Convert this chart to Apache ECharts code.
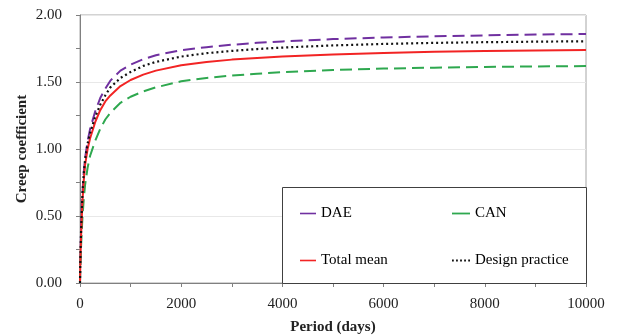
<!DOCTYPE html>
<html>
<head>
<meta charset="utf-8">
<script src="https://cdn.jsdelivr.net/npm/echarts@6/dist/echarts.min.js"></script>
<style>html,body{margin:0;padding:0;background:#fff;}#c{width:618px;height:336px;}</style>
</head>
<body>
<div id="c"></div>
<script>
const days = [0, 5, 10, 20, 30, 50, 75, 100, 150, 200, 300, 400, 500, 600, 800, 1000, 1250, 1500, 2000, 2500, 3000, 3500, 4000, 5000, 6000, 7000, 8000, 9000, 10000];
const dae = [0, 0.13, 0.22, 0.37, 0.49, 0.68, 0.83, 0.93, 1.06, 1.15, 1.28, 1.38, 1.45, 1.51, 1.585, 1.63, 1.67, 1.70, 1.737, 1.760, 1.778, 1.792, 1.803, 1.820, 1.832, 1.841, 1.848, 1.854, 1.858];
const can = [0, 0.09, 0.15, 0.26, 0.35, 0.50, 0.63, 0.73, 0.86, 0.95, 1.06, 1.15, 1.22, 1.27, 1.345, 1.39, 1.43, 1.46, 1.505, 1.530, 1.548, 1.562, 1.573, 1.590, 1.600, 1.607, 1.612, 1.616, 1.619];
const totalMean = [0, 0.12, 0.20, 0.33, 0.44, 0.62, 0.77, 0.88, 1.00, 1.08, 1.20, 1.29, 1.355, 1.40, 1.47, 1.515, 1.555, 1.585, 1.625, 1.650, 1.667, 1.680, 1.690, 1.706, 1.717, 1.725, 1.731, 1.736, 1.739];
const designPractice = [0, 0.13, 0.22, 0.37, 0.49, 0.68, 0.82, 0.92, 1.04, 1.12, 1.24, 1.33, 1.40, 1.46, 1.53, 1.575, 1.62, 1.65, 1.69, 1.715, 1.732, 1.746, 1.757, 1.773, 1.784, 1.792, 1.797, 1.801, 1.804];
const seriesNames = ['DAE', 'CAN', 'Total mean', 'Design practice'];
const xTicks = [0, 2000, 4000, 6000, 8000, 10000];
const yTicks = [0, 0.5, 1.0, 1.5, 2.0];

const pair = arr => days.map((d, i) => [d, arr[i]]);
const font = 'Liberation Serif';
const chart = echarts.init(document.getElementById('c'));
const mk = (name, data, color, type, width) => ({
  name, type: 'line', data: pair(data), showSymbol: false, symbol: 'none',
  smooth: false,
  lineStyle: { color, type, width }, itemStyle: { color }
});
const solidIcon = 'path://M0,0H20V2H0Z';
const dotIcon = 'path://M0,0H2V2H0Z M4.5,0H6.5V2H4.5Z M9,0H11V2H9Z M13.5,0H15.5V2H13.5Z M18,0H20V2H18Z';
const legendItem = (name, left, top, icon, w) => ({
  data: [{ name, icon }], left, top, itemWidth: w, itemHeight: 2, itemGap: 0,
  textStyle: { fontFamily: font, fontSize: 15, color: '#000' }, z: 20
});
chart.setOption({
  animation: false,
  grid: { left: 80, right: 32, top: 15, bottom: 53, containLabel: false, outerBoundsMode: 'none',
    show: true, borderColor: '#a6a6a6', borderWidth: 1 },
  xAxis: {
    type: 'value', min: 0, max: 10000, interval: 2000,
    axisLine: { show: true, lineStyle: { color: '#808080' } },
    axisTick: { show: true, inside: false, length: 4, lineStyle: { color: '#808080' } },
    minorTick: { show: true, splitNumber: 2, length: 4, lineStyle: { color: '#808080' } },
    splitLine: { show: false },
    axisLabel: { fontFamily: font, fontSize: 15, color: '#222', margin: 14,
      formatter: v => xTicks.includes(v) ? String(v) : '' },
    name: 'Period (days)', nameLocation: 'middle', nameGap: 37, nameMoveOverlap: false,
    nameTextStyle: { fontFamily: font, fontSize: 15, fontWeight: 'bold', color: '#222' }
  },
  yAxis: {
    type: 'value', min: 0, max: 2, interval: 0.5,
    axisLine: { show: true, lineStyle: { color: '#808080' } },
    axisTick: { show: true, length: 4, lineStyle: { color: '#808080' } },
    minorTick: { show: true, splitNumber: 2, length: 4, lineStyle: { color: '#808080' } },
    splitLine: { show: true, lineStyle: { color: '#e8e8e8', width: 1 } },
    axisLabel: { fontFamily: font, fontSize: 15, color: '#222', margin: 18,
      formatter: v => yTicks.some(t => Math.abs(t - v) < 1e-9) ? v.toFixed(2) : '' },
    name: 'Creep coefficient', nameLocation: 'middle', nameGap: 50, nameRotate: 90, nameMoveOverlap: false,
    nameTextStyle: { fontFamily: font, fontSize: 15, fontWeight: 'bold', color: '#222' }
  },
  graphic: [{
    type: 'rect', left: 282, top: 187, z: 15,
    shape: { width: 304, height: 96 },
    style: { fill: '#fff', stroke: '#404040', lineWidth: 1 }
  }],
  legend: [
    legendItem(seriesNames[0], 295, 201, solidIcon, 16),
    legendItem(seriesNames[1], 447, 201, solidIcon, 18),
    legendItem(seriesNames[2], 295, 248, solidIcon, 16),
    legendItem(seriesNames[3], 447, 248, dotIcon, 18)
  ],
  series: [
    mk(seriesNames[0], dae, '#7030a0', [12, 6], 2),
    mk(seriesNames[1], can, '#2ea84f', [12, 6], 2),
    mk(seriesNames[2], totalMean, '#f22424', 'solid', 2),
    mk(seriesNames[3], designPractice, '#111', [2, 3], 2.2)
  ]
});
</script>
</body>
</html>
